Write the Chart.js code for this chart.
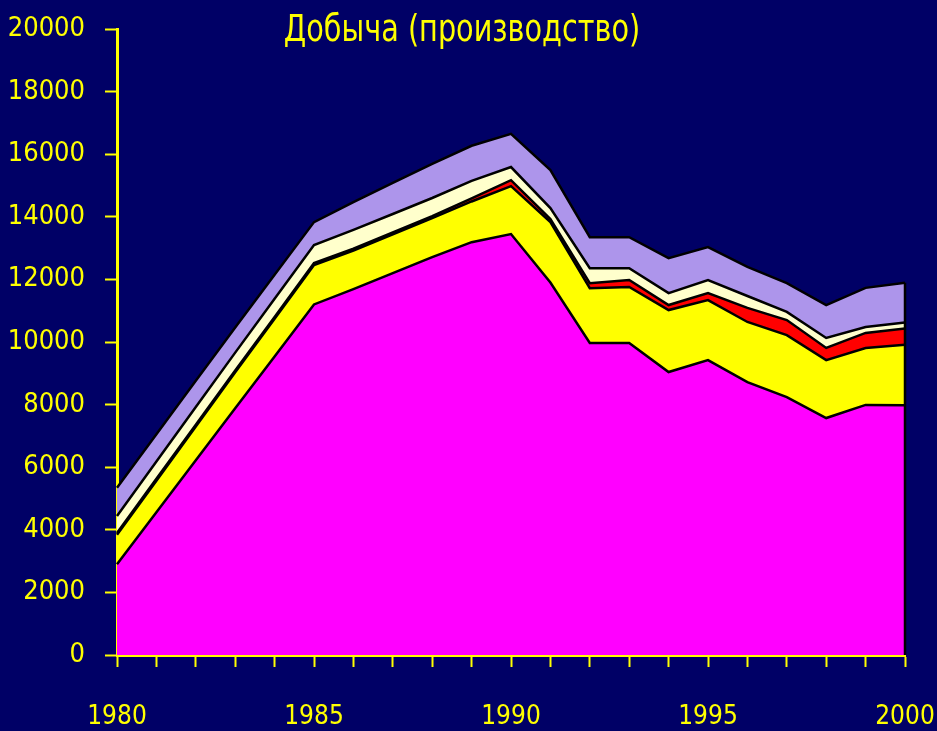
<!DOCTYPE html>
<html lang="ru">
<head>
    <meta charset="UTF-8">
    <title>Добыча (производство)</title>
    <script src="https://cdn.jsdelivr.net/npm/chart.js"></script>
    <style>
        html, body { margin: 0; padding: 0; background: #000066; }
        #wrap { width: 937px; height: 731px; }
    </style>
</head>
<body>
    <div id="wrap"><canvas id="chart" width="937" height="731"></canvas></div>

    <script>
        // data (stacked, bottom to top)
        const years = ['1980','1981','1982','1983','1984','1985','1986','1987','1988','1989','1990',
                       '1991','1992','1993','1994','1995','1996','1997','1998','1999','2000'];
        const magenta = [2900, 4560, 6220, 7880, 9540, 11200, 11690, 12200, 12710, 13190, 13450,
                         11900, 9970, 9970, 9040, 9420, 8720, 8240, 7570, 7990, 7980];
        const yellow = [940, 1010, 1080, 1150, 1200, 1260, 1230, 1240, 1250, 1300, 1530,
                        1930, 1750, 1790, 1980, 1920, 1920, 1980, 1850, 1820, 1930];
        const red = [60, 60, 60, 60, 60, 60, 60, 60, 60, 100, 190,
                     100, 160, 220, 160, 220, 450, 480, 390, 480, 520];
        const cream = [540, 550, 560, 570, 580, 580, 600, 590, 580, 560, 420,
                       350, 480, 380, 380, 420, 380, 260, 320, 190, 190];
        const lavender = [900, 870, 840, 800, 770, 730, 890, 990, 1090, 1120, 1060,
                          1210, 990, 990, 1120, 1050, 930, 920, 1050, 1250, 1270];
        const yTicks = [0, 2000, 4000, 6000, 8000, 10000, 12000, 14000, 16000, 18000, 20000];
        const xLabelYears = ['1980', '1985', '1990', '1995', '2000'];

        const fontFamily = "'DejaVu Sans Condensed', 'Liberation Sans', Arial, sans-serif";
        const yel = '#ffff00';

        function layer(data, color, fill) {
            return {
                data: data,
                backgroundColor: color,
                borderColor: '#000000',
                borderWidth: 2.5,
                pointRadius: 0,
                tension: 0,
                fill: fill
            };
        }

        // title sits inside the plot area, and the right edge of the stack gets an outline
        const extras = {
            id: 'extras',
            afterDatasetsDraw(chart) {
                const ctx = chart.ctx;
                const xs = chart.scales.x, ys = chart.scales.y;
                const last = years.length - 1;
                const top = magenta[last] + yellow[last] + red[last] + cream[last] + lavender[last];
                ctx.save();
                ctx.strokeStyle = '#000';
                ctx.lineWidth = 2.5;
                ctx.beginPath();
                ctx.moveTo(xs.getPixelForValue(last), ys.getPixelForValue(top));
                ctx.lineTo(xs.getPixelForValue(last), ys.getPixelForValue(0));
                ctx.stroke();
                ctx.restore();
            },
            afterDraw(chart) {
                const ctx = chart.ctx;
                ctx.save();
                ctx.fillStyle = yel;
                ctx.font = '38px ' + fontFamily;
                ctx.textAlign = 'center';
                ctx.textBaseline = 'middle';
                ctx.translate(462, 31);
                ctx.scale(0.84, 1);
                ctx.fillText('Добыча (производство)', 0, 0);
                ctx.restore();
            }
        };

        new Chart(document.getElementById('chart'), {
            type: 'line',
            data: {
                labels: years,
                datasets: [
                    layer(magenta, '#ff00ff', 'origin'),
                    layer(yellow, '#ffff00', '-1'),
                    layer(red, '#ff0000', '-1'),
                    layer(cream, '#ffffcc', '-1'),
                    layer(lavender, '#ad95eb', '-1')
                ]
            },
            options: {
                responsive: false,
                animation: false,
                layout: { padding: { top: 29, right: 32, left: 0, bottom: 0 } },
                plugins: { legend: { display: false }, tooltip: { enabled: false } },
                scales: {
                    x: {
                        offset: false,
                        grid: { display: true, drawOnChartArea: false, drawTicks: true,
                                tickLength: 12, tickColor: yel, tickWidth: 2, color: yel },
                        border: { display: true, color: yel, width: 3 },
                        ticks: {
                            autoSkip: false, maxRotation: 0, color: yel, padding: 35,
                            font: { family: fontFamily, size: 26 },
                            callback: function (v) {
                                const y = years[v];
                                return xLabelYears.includes(y) ? y : '';
                            }
                        },
                        afterFit: function (s) {
                            s.height = 76;
                            s.paddingLeft = 0;
                            s.paddingRight = 0;
                        }
                    },
                    y: {
                        stacked: true,
                        min: 0, max: 20000,
                        afterBuildTicks: function (s) { s.ticks = yTicks.map(v => ({ value: v })); },
                        grid: { display: true, drawOnChartArea: false, drawTicks: true,
                                tickLength: 12, tickColor: yel, tickWidth: 2, color: yel },
                        border: { display: true, color: yel, width: 3 },
                        ticks: {
                            color: yel, padding: 20, font: { family: fontFamily, size: 27 },
                            callback: function (v) { return String(v); }
                        },
                        afterFit: function (s) {
                            s.width = 117;
                            s.paddingTop = 0;
                            s.paddingBottom = 0;
                        }
                    }
                }
            },
            plugins: [extras]
        });
    </script>
</body>
</html>
